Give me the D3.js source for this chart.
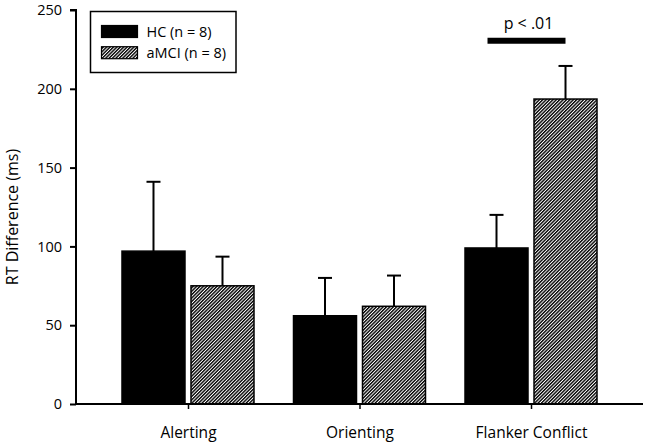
<!DOCTYPE html>
<html>
<head>
<meta charset="utf-8">
<script src="https://cdn.jsdelivr.net/npm/d3@7"></script>
<style>
  html, body { margin: 0; padding: 0; background: #fff; }
  svg { display: block; font-family: "Open Sans", "Noto Sans", sans-serif; }
</style>
</head>
<body>
<svg id="chart" width="647" height="446"></svg>
<script>
// ---- data ----
const categories = ["Alerting", "Orienting", "Flanker Conflict"];
const groups = ["HC (n = 8)", "aMCI (n = 8)"];
const hcValues = [97, 56, 99];
const hcErrors = [44, 24, 21];
const amciValues = [75, 62, 193.5];
const amciErrors = [18.5, 19.5, 21];
const yTicks = [0, 50, 100, 150, 200, 250];
const sigCategory = "Flanker Conflict";
const sigLabel = "p < .01";
const sigLevel = 230.5;
const yLabel = "RT Difference (ms)";

// ---- layout ----
const svg = d3.select("#chart");
const plotLeft = 76, plotRight = 643, plotTop = 10, plotBottom = 404;

const y = d3.scaleLinear().domain([0, 250]).range([plotBottom, plotTop]);
const x = d3.scalePoint().domain(categories).range([plotLeft, plotRight]).padding(0.653);
const xInner = d3.scaleBand().domain(groups).range([-66, 66]).paddingInner(0.087);

// hatch pattern
const defs = svg.append("defs");
const pat = defs.append("pattern")
  .attr("id", "hatch")
  .attr("patternUnits", "userSpaceOnUse")
  .attr("width", 2.4).attr("height", 2.4)
  .attr("patternTransform", "rotate(45)");
pat.append("rect").attr("width", 2.4).attr("height", 2.4).attr("fill", "#fff");
pat.append("rect").attr("x", 0).attr("y", 0).attr("width", 1.4).attr("height", 2.4).attr("fill", "#000");

const fills = ["#000", "url(#hatch)"];
const seriesVals = [hcValues, amciValues];
const seriesErrs = [hcErrors, amciErrors];

// bars
const barData = [];
groups.forEach((g, gi) => {
  categories.forEach((c, ci) => {
    barData.push({ g, gi, c, v: seriesVals[gi][ci], e: seriesErrs[gi][ci] });
  });
});

const barG = svg.append("g");
const cx = d => x(d.c) + xInner(d.g) + xInner.bandwidth() / 2;
barG.selectAll("line.err").data(barData).join("line")
  .attr("class", "err")
  .attr("x1", cx).attr("x2", cx)
  .attr("y1", d => y(d.v))
  .attr("y2", d => y(d.v + d.e))
  .attr("stroke", "#000").attr("stroke-width", 2);
barG.selectAll("line.cap").data(barData).join("line")
  .attr("class", "cap")
  .attr("x1", d => cx(d) - 7)
  .attr("x2", d => cx(d) + 7)
  .attr("y1", d => y(d.v + d.e))
  .attr("y2", d => y(d.v + d.e))
  .attr("stroke", "#000").attr("stroke-width", 2);

barG.selectAll("rect.bar").data(barData).join("rect")
  .attr("class", "bar")
  .attr("x", d => x(d.c) + xInner(d.g))
  .attr("y", d => y(d.v))
  .attr("width", xInner.bandwidth())
  .attr("height", d => y(0) - y(d.v))
  .attr("fill", d => fills[d.gi])
  .attr("stroke", "#000").attr("stroke-width", 1.5);

// axes
const yAxis = d3.axisLeft(y).tickValues(yTicks).tickSize(6).tickPadding(8);
const yg = svg.append("g").attr("transform", `translate(${plotLeft},0)`).call(yAxis);
yg.select(".domain").attr("stroke-width", 2).attr("d", `M-6,${y(250)}H0V${y(0)}`);
yg.selectAll(".tick line").attr("stroke-width", 2);
yg.selectAll(".tick text").attr("font-size", 14.5).attr("font-family", "'Open Sans', sans-serif").attr("fill", "#000");

const xAxis = d3.axisBottom(x).tickSize(5).tickPadding(18);
const xg = svg.append("g").attr("transform", `translate(0,${plotBottom})`).call(xAxis);
xg.select(".domain").attr("stroke-width", 2).attr("d", `M${plotLeft},0H${plotRight}`);
xg.selectAll(".tick line").attr("stroke-width", 1.5);
xg.selectAll(".tick text").attr("font-size", 15.5).attr("font-family", "'Open Sans', sans-serif").attr("fill", "#000");

// y label
svg.append("text")
  .attr("transform", `translate(14,217) rotate(-90)`)
  .attr("text-anchor", "middle")
  .attr("dominant-baseline", "middle")
  .attr("font-size", 16)
  .text(yLabel);

// significance
const sx1 = x(sigCategory) + xInner(groups[0]) + xInner.bandwidth() / 2 - 9;
const sx2 = x(sigCategory) + xInner(groups[1]) + xInner.bandwidth() / 2;
svg.append("line")
  .attr("x1", sx1).attr("x2", sx2)
  .attr("y1", y(sigLevel)).attr("y2", y(sigLevel))
  .attr("stroke", "#000").attr("stroke-width", 6);
svg.append("text")
  .attr("x", (sx1 + sx2) / 2 + 2).attr("y", y(sigLevel) - 12)
  .attr("text-anchor", "middle")
  .attr("font-size", 16)
  .text(sigLabel);

// legend
const lg = svg.append("g");
lg.append("rect").attr("x", 90.5).attr("y", 11.5).attr("width", 145.5).attr("height", 61)
  .attr("fill", "#fff").attr("stroke", "#000").attr("stroke-width", 1.5);
groups.forEach((g, i) => {
  lg.append("rect").attr("x", 101.5).attr("y", 25.5 + i * 21.2).attr("width", 36).attr("height", 12)
    .attr("fill", fills[i]).attr("stroke", "#000").attr("stroke-width", 1.2);
  lg.append("text").attr("x", 146.5).attr("y", 37 + i * 21.2)
    .attr("font-size", 14.5).text(g);
});
</script>
</body>
</html>
